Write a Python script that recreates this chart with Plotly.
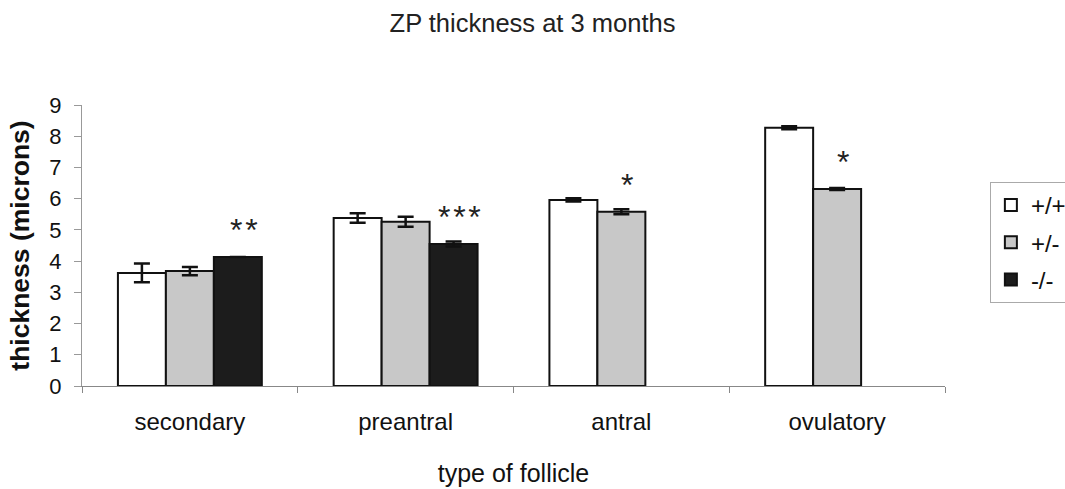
import plotly.graph_objects as go

categories = ["secondary", "preantral", "antral", "ovulatory"]
genotypes = ["+/+", "+/-", "-/-"]
wt_values = [3.62, 5.38, 5.96, 8.27]
wt_errors = [0.30, 0.15, 0.05, 0.05]
het_values = [3.68, 5.26, 5.58, 6.31]
het_errors = [0.13, 0.16, 0.08, 0.03]
ko_values = [4.13, 4.55, None, None]
ko_errors = [0.0, 0.08, 0, 0]
stars_het = ["", "", "*", "*"]
stars_ko = ["**", "***", "", ""]

fills = ["#ffffff", "#c8c8c8", "#1c1c1c"]
series = [(wt_values, wt_errors), (het_values, het_errors), (ko_values, ko_errors)]

fig = go.Figure()
for i, (name, (vals, errs)) in enumerate(zip(genotypes, series)):
    fig.add_trace(go.Bar(
        x=categories, y=vals, name=name,
        marker=dict(color=fills[i], line=dict(color="#111111", width=2)),
        error_y=dict(type="data", array=errs, visible=True, color="#111111", thickness=2.5, width=8),
        legendgroup=name,
    ))

font_family = "Liberation Sans, Arial, sans-serif"
annotations = []
bar_px = 48
for stars, vals, offset in [(stars_het, het_values, 0), (stars_ko, ko_values, bar_px)]:
    for cat, s, v in zip(categories, stars, vals):
        if s and v is not None:
            annotations.append(dict(
                x=cat, y=v, xref="x", yref="y", text="\u200a".join(s), showarrow=False,
                xshift=offset + 6, yshift=27, yanchor="middle",
                font=dict(family=font_family, size=32, color="#222222"),
            ))

fig.update_layout(
    width=1065, height=489,
    margin=dict(l=82, r=120, t=105, b=103, autoexpand=False),
    paper_bgcolor="white", plot_bgcolor="white",
    barmode="group", bargap=0.333, bargroupgap=0,
    title=dict(text="ZP thickness at 3 months", x=0.5, xref="container", xanchor="center",
               y=0.952, yanchor="middle",
               font=dict(family=font_family, size=25.5, color="#222222")),
    font=dict(family=font_family, color="#111111"),
    showlegend=True,
    legend=dict(x=1.052, y=0.726, xanchor="left", yanchor="top",
                bordercolor="#aaaaaa", borderwidth=1, bgcolor="white",
                font=dict(family=font_family, size=24, color="#111111"),
                traceorder="grouped", tracegroupgap=3),
    annotations=annotations,
)
fig.update_xaxes(
    showline=True, linecolor="#888888", linewidth=1,
    ticks="outside", tickson="boundaries", ticklen=6, tickcolor="#888888",
    tickfont=dict(size=24, color="#111111"), ticklabelstandoff=14,
    title=dict(text="type of follicle", font=dict(size=25, color="#111111"), standoff=30),
    showgrid=False,
)
fig.update_yaxes(
    range=[0, 9], dtick=1, showline=True, linecolor="#999999", linewidth=1,
    ticks="outside", ticklen=7, tickcolor="#999999",
    tickfont=dict(size=22, color="#111111"), ticklabelstandoff=8,
    title=dict(text="<b>thickness (microns)</b>", font=dict(size=26.5, color="#111111"), standoff=12),
    showgrid=False, zeroline=False,
)

fig.write_html("out.html")
